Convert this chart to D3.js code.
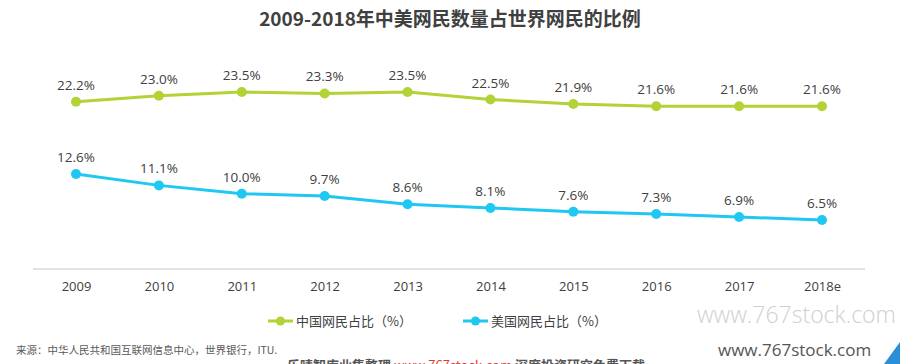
<!DOCTYPE html>
<html>
<head>
<meta charset="utf-8">
<script src="https://cdn.jsdelivr.net/npm/d3@7"></script>
<style>
  body { margin: 0; background: #fff; }
  text { font-family: "Open Sans", "Noto Sans CJK SC", sans-serif; }
</style>
</head>
<body>
<div id="chart"></div>
<script>
(function() {
  var years = ["2009", "2010", "2011", "2012", "2013", "2014", "2015", "2016", "2017", "2018e"];
  var chinaShare = [22.2, 23.0, 23.5, 23.3, 23.5, 22.5, 21.9, 21.6, 21.6, 21.6];
  var usShare = [12.6, 11.1, 10.0, 9.7, 8.6, 8.1, 7.6, 7.3, 6.9, 6.5];
  var seriesNames = ["中国网民占比（%）", "美国网民占比（%）"];
  var colors = ["#b2d235", "#1fc8f2"];

  var width = 900, height = 364;
  var cjk = '"Noto Sans CJK SC", sans-serif';

  var svg = d3.select("#chart")
    .append("svg")
    .attr("width", width)
    .attr("height", height);

  var x = d3.scalePoint()
    .domain(years)
    .range([76, 822]);

  var y = d3.scaleLinear()
    .domain([0, 30])
    .range([269, 43]);

  // title
  svg.append("text")
    .attr("x", 450)
    .attr("y", 26)
    .attr("text-anchor", "middle")
    .style("font-family", cjk)
    .style("font-weight", "bold")
    .style("font-size", "19px")
    .style("fill", "#404040")
    .text("2009-2018年中美网民数量占世界网民的比例");

  // x axis
  var xAxis = svg.append("g")
    .attr("transform", "translate(0," + y(0) + ")")
    .call(d3.axisBottom(x).tickSize(0).tickPadding(13));
  xAxis.select(".domain").remove();
  xAxis.append("line")
    .attr("x1", 33).attr("x2", 865)
    .attr("stroke", "#e3e3e3")
    .attr("stroke-width", 2);
  xAxis.selectAll(".tick text")
    .style("font-family", "'Open Sans', sans-serif")
    .style("font-size", "13px")
    .style("fill", "#404040");

  var line = d3.line()
    .x(function(d, i) { return x(years[i]); })
    .y(function(d) { return y(d); });

  [chinaShare, usShare].forEach(function(values, s) {
    var g = svg.append("g");
    g.append("path")
      .datum(values)
      .attr("d", line)
      .attr("fill", "none")
      .attr("stroke", colors[s])
      .attr("stroke-width", 3);

    g.selectAll("circle")
      .data(values)
      .enter().append("circle")
      .attr("cx", function(d, i) { return x(years[i]); })
      .attr("cy", function(d) { return y(d); })
      .attr("r", 5)
      .attr("fill", colors[s]);

    g.selectAll(".label")
      .data(values)
      .enter().append("text")
      .attr("class", "label")
      .attr("x", function(d, i) { return x(years[i]); })
      .attr("y", function(d) { return y(d) - 12; })
      .attr("text-anchor", "middle")
      .style("font-size", "13.5px")
      .style("fill", "#404040")
      .text(function(d) { return d.toFixed(1) + "%"; });
  });

  // legend
  var legendX = [268, 463];
  seriesNames.forEach(function(name, i) {
    var lg = svg.append("g").attr("transform", "translate(" + legendX[i] + ",321)");
    lg.append("line")
      .attr("x1", 0).attr("x2", 25)
      .attr("stroke", colors[i])
      .attr("stroke-width", 3);
    lg.append("circle")
      .attr("cx", 12.5).attr("r", 4.5)
      .attr("fill", colors[i]);
    lg.append("text")
      .attr("x", 28)
      .attr("dy", "0.35em")
      .style("font-family", cjk)
      .style("font-size", "13px")
      .style("fill", "#404040")
      .text(name);
  });

  // source
  svg.append("text")
    .attr("x", 16)
    .attr("y", 354)
    .style("font-family", cjk)
    .style("font-size", "10.5px")
    .style("fill", "#595959")
    .text("来源：中华人民共和国互联网信息中心，世界银行，ITU.");

  // watermarks
  svg.append("text")
    .attr("x", 697)
    .attr("y", 323)
    .style("font-family", "'Open Sans', sans-serif")
    .style("font-weight", "300")
    .style("font-size", "23px")
    .style("fill", "#cfcfcf")
    .text("www.767stock.com");

  svg.append("text")
    .attr("x", 718)
    .attr("y", 356)
    .style("font-family", "'Open Sans', sans-serif")
    .style("font-size", "17px")
    .style("fill", "#555")
    .text("www.767stock.com");

  // footer strip, cut off by the bottom edge like the original
  var foot = svg.append("text")
    .attr("x", 287)
    .attr("y", 370)
    .style("font-family", cjk)
    .style("font-weight", "bold")
    .style("font-size", "13px")
    .style("fill", "#555");
  foot.append("tspan").text("乐晴智库业集整理 ");
  foot.append("tspan").style("fill", "#e03c31").style("font-weight", "normal").text("www.767stock.com");
  foot.append("tspan").text(" 深度投资研究免费下载");

  svg.append("path")
    .attr("d", "M900,342 L900,364 L884,364 Z")
    .attr("fill", "#2a8fd6");
})();
</script>
</body>
</html>
